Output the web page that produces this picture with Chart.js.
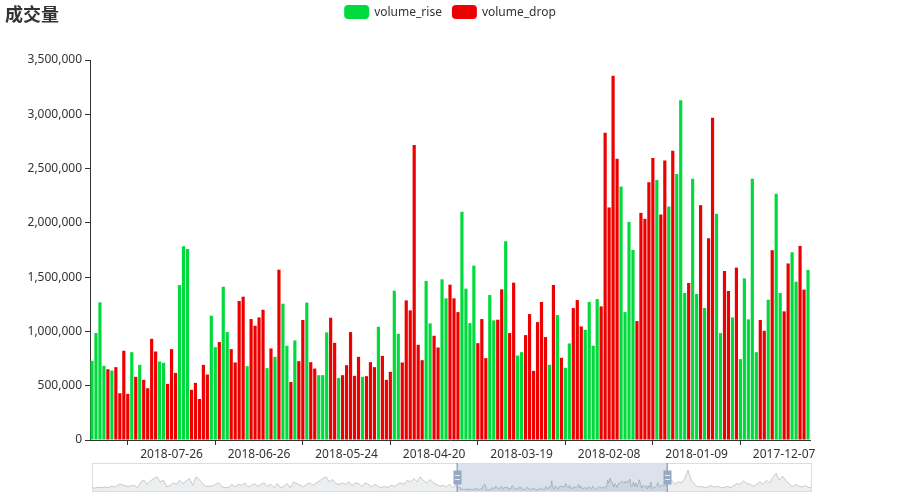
<!DOCTYPE html>
<html>
<head>
<meta charset="utf-8">
<title>成交量</title>
<script src="https://cdn.jsdelivr.net/npm/chart.js@4.4.1/dist/chart.umd.min.js"></script>
<style>
  html, body { margin: 0; padding: 0; background: #fff; }
  #wrap { position: relative; width: 900px; height: 500px; }
  #volumeChart { position: absolute; left: 0; top: 0; }
  #overviewChart { position: absolute; left: 0; top: 460px; }
</style>
</head>
<body>
<div id="wrap">
  <canvas id="volumeChart" width="900" height="460"></canvas>
  <canvas id="overviewChart" width="900" height="40"></canvas>
</div>
<script>
// trading days, newest first (as on the axis)
const dates = [
  "2018-08-23","2018-08-22","2018-08-21","2018-08-20","2018-08-17","2018-08-16","2018-08-15","2018-08-14","2018-08-13","2018-08-10","2018-08-09","2018-08-08","2018-08-07","2018-08-06","2018-08-03","2018-08-02","2018-08-01",
  "2018-07-31","2018-07-30","2018-07-27","2018-07-26","2018-07-25","2018-07-24","2018-07-23","2018-07-20","2018-07-19","2018-07-18","2018-07-17","2018-07-16","2018-07-13","2018-07-12","2018-07-11","2018-07-10","2018-07-09","2018-07-06","2018-07-05","2018-07-04","2018-07-03","2018-07-02",
  "2018-06-29","2018-06-28","2018-06-27","2018-06-26","2018-06-25","2018-06-22","2018-06-21","2018-06-20","2018-06-19","2018-06-15","2018-06-14","2018-06-13","2018-06-12","2018-06-11","2018-06-08","2018-06-07","2018-06-06","2018-06-05","2018-06-04","2018-06-01",
  "2018-05-31","2018-05-30","2018-05-29","2018-05-28","2018-05-25","2018-05-24","2018-05-23","2018-05-22","2018-05-21","2018-05-18","2018-05-17","2018-05-16","2018-05-15","2018-05-14","2018-05-11","2018-05-10","2018-05-09","2018-05-08","2018-05-07","2018-05-04","2018-05-03","2018-05-02",
  "2018-04-27","2018-04-26","2018-04-25","2018-04-24","2018-04-23","2018-04-20","2018-04-19","2018-04-18","2018-04-17","2018-04-16","2018-04-13","2018-04-12","2018-04-11","2018-04-10","2018-04-09","2018-04-04","2018-04-03","2018-04-02",
  "2018-03-30","2018-03-29","2018-03-28","2018-03-27","2018-03-26","2018-03-23","2018-03-22","2018-03-21","2018-03-20","2018-03-19","2018-03-16","2018-03-15","2018-03-14","2018-03-13","2018-03-12","2018-03-09","2018-03-08","2018-03-07","2018-03-06","2018-03-05","2018-03-02","2018-03-01",
  "2018-02-28","2018-02-27","2018-02-26","2018-02-23","2018-02-22","2018-02-14","2018-02-13","2018-02-12","2018-02-09","2018-02-08","2018-02-07","2018-02-06","2018-02-05","2018-02-02","2018-02-01",
  "2018-01-31","2018-01-30","2018-01-29","2018-01-26","2018-01-25","2018-01-24","2018-01-23","2018-01-22","2018-01-19","2018-01-18","2018-01-17","2018-01-16","2018-01-15","2018-01-12","2018-01-11","2018-01-10","2018-01-09","2018-01-08","2018-01-05","2018-01-04","2018-01-03","2018-01-02",
  "2017-12-29","2017-12-28","2017-12-27","2017-12-26","2017-12-25","2017-12-22","2017-12-21","2017-12-20","2017-12-19","2017-12-18","2017-12-15","2017-12-14","2017-12-13","2017-12-12","2017-12-11","2017-12-08","2017-12-07","2017-12-06","2017-12-05","2017-12-04","2017-12-01",
  "2017-11-30","2017-11-29"
];

// daily volume, same order as dates
const volumes = [
  729000, 985000, 1268000, 683000, 652000, 640000, 671000, 431000, 822000, 425000,
  809000, 582000, 692000, 554000, 477000, 932000, 815000, 723000, 711000, 517000,
  837000, 618000, 1428000, 1785000, 1760000, 462000, 526000, 378000, 692000, 603000,
  1145000, 855000, 902000, 1412000, 994000, 837000, 714000, 1280000, 1320000, 680000,
  1114000, 1052000, 1129000, 1200000, 662000, 843000, 766000, 1569000, 1255000, 868000,
  535000, 917000, 726000, 1105000, 1265000, 717000, 658000, 597000, 597000, 991000,
  1126000, 895000, 572000, 597000, 689000, 994000, 591000, 766000, 582000, 588000,
  717000, 671000, 1043000, 775000, 554000, 628000, 1375000, 978000, 714000, 1286000,
  1194000, 2717000, 877000, 735000, 1465000, 1074000, 960000, 852000, 1480000, 1305000,
  1431000, 1305000, 1178000, 2102000, 1394000, 1077000, 1606000, 892000, 1114000, 754000,
  1335000, 1102000, 1108000, 1388000, 1831000, 985000, 1449000, 778000, 809000, 966000,
  1160000, 637000, 1086000, 1271000, 948000, 692000, 1428000, 1151000, 757000, 665000,
  889000, 1215000, 1289000, 1046000, 1015000, 1271000, 868000, 1298000, 1231000, 2831000,
  2142000, 3354000, 2591000, 2335000, 1178000, 2009000, 1751000, 1095000, 2092000, 2037000,
  2375000, 2597000, 2394000, 2077000, 2575000, 2151000, 2665000, 2449000, 3129000, 1354000,
  1446000, 2406000, 1345000, 2163000, 1215000, 1858000, 2969000, 2083000, 985000, 1557000,
  1372000, 1129000, 1588000, 745000, 1489000, 1111000, 2406000, 809000, 1105000, 1006000,
  1292000, 1748000, 2268000, 1354000, 1185000, 1626000, 1729000, 1458000, 1788000, 1385000,
  1566000
];

// '+' = price rose that day, '-' = price dropped
const trend = [
  "++++-+----", "+-+----++-", "--+++-----", "++-++----+", "----+-+-++",
  "-+--+--+++", "--+-----+-", "--+---++--", "----++--++", "---++++---",
  "++--+--++-", "-----+-+-+", "+---++++--", "---++++---", "--+--+-+++",
  "-++-+--++-", "-+-+++++--", "+-++--++--", "+"
].join("");

// x-axis labels that are shown
const shownDates = ["2018-07-26", "2018-06-26", "2018-05-24", "2018-04-20", "2018-03-19", "2018-02-08", "2018-01-09", "2017-12-07"];

// y-axis
const yMax = 3500000;
const yStep = 500000;

// overview strip (data zoom): volumes outside the visible window, rough read-off
const overviewBefore = [
  1060, 975, 1140, 1060, 1220, 1060, 1380, 1220, 1710, 1870,
  1550, 1380, 1470, 1630, 1060, 2450, 2860, 1870, 2700, 3270,
  3680, 2450, 2860, 1220, 1630, 2200, 1870, 2860, 2040, 2700,
  3270, 1630, 3680, 3020, 2040, 1380, 1380, 1470, 1870, 2200,
  1220, 1060, 1060, 1870, 1220, 1870, 1630, 2200, 1220, 1550,
  2040, 1380, 1870, 2200, 1380, 1870, 1060, 2040, 1060,
  1380, 2040, 1060, 2450, 2040, 1630, 1220, 1870, 2200, 1630,
  2200, 2700, 3270, 3680, 2450, 3020, 2040, 1870, 2200, 1870,
  2450, 1630, 2200, 2040, 1380, 2200, 1870, 1220, 1870, 1380,
  1060, 1380, 1060, 1630, 1380, 1870, 2200, 1870, 2860, 2450,
  3270, 2450, 3680, 2700, 2200, 3020, 2200, 1870, 1380, 1630,
  1220, 1870, 1060, 1630
].map(v => v * 1000);
const overviewAfter = [
  2040, 2860, 1870, 2450, 2200, 3270, 5300, 2860, 1870, 1220,
  1380, 1060, 1220, 1550, 1220, 1380, 1060, 1060, 1380, 1060,
  1550, 2040, 1870, 2700, 2040, 1870, 1380, 1870, 2450, 1870,
  2860, 2200, 3510, 4500, 2860, 3840, 2700, 2040, 1220, 1870,
  1380, 1220, 1550, 1060, 1220
].map(v => v * 1000);
const hiddenDaysBefore = 313;
const hiddenDaysAfter = 124;

const volumeRise = volumes.map((v, i) => trend[i] === "+" ? v : null);
const volumeDrop = volumes.map((v, i) => trend[i] === "-" ? v : null);

const labelIdx = new Set(shownDates.map(d => dates.indexOf(d)));
const tickIdx = new Set(shownDates.map(d => dates.indexOf(d) - 11));

const axisFont = { family: "'Noto Sans', sans-serif", size: 12 };

const headerPlugin = {
  id: "header",
  afterDraw(chart) {
    const ctx = chart.ctx;
    ctx.save();
    ctx.textAlign = "left";
    ctx.textBaseline = "middle";
    ctx.fillStyle = "#333";
    ctx.font = "bold 18px 'Noto Sans CJK SC'";
    ctx.fillText("成交量", 5, 14);

    ctx.font = "12px 'Noto Sans'";
    const items = chart.data.datasets.map(ds => ({
      text: ds.label,
      color: ds.backgroundColor,
      w: 25 + 5 + ctx.measureText(ds.label).width
    }));
    const total = items.reduce((s, it) => s + it.w, 0) + 10 * (items.length - 1);
    let x = chart.width / 2 - total / 2;
    items.forEach(it => {
      ctx.fillStyle = it.color;
      ctx.beginPath();
      ctx.roundRect(x, 5, 25, 14, 4);
      ctx.fill();
      ctx.fillStyle = "#333";
      ctx.fillText(it.text, x + 30, 12.5);
      x += it.w + 10;
    });
    ctx.restore();
  }
};

new Chart(document.getElementById("volumeChart"), {
  type: "bar",
  data: {
    labels: dates,
    datasets: [
      { label: "volume_rise", data: volumeRise, backgroundColor: "#00da3c", categoryPercentage: 1, barPercentage: 0.8 },
      { label: "volume_drop", data: volumeDrop, backgroundColor: "#ec0000", categoryPercentage: 1, barPercentage: 0.8 }
    ]
  },
  options: {
    responsive: false,
    animation: false,
    layout: { padding: { left: 0, right: 90, top: 60, bottom: 0 } },
    plugins: { legend: { display: false }, tooltip: { enabled: false } },
    scales: {
      x: {
        stacked: true,
        offset: true,
        grid: {
          offset: false,
          drawOnChartArea: false,
          tickLength: 5,
          color: "rgba(0,0,0,0)",
          tickColor: c => tickIdx.has(c.index) ? "#333" : "rgba(0,0,0,0)"
        },
        border: { color: "#333" },
        ticks: {
          autoSkip: false,
          maxRotation: 0,
          minRotation: 0,
          padding: 2,
          color: "#333",
          font: axisFont,
          callback(value, index) {
            return labelIdx.has(index) ? this.getLabelForValue(value) : "";
          }
        },
        afterFit(scale) { scale.height = 20; }
      },
      y: {
        stacked: true,
        min: 0,
        max: yMax,
        grid: { drawOnChartArea: false, tickLength: 5, tickColor: "#333" },
        border: { color: "#333" },
        ticks: {
          stepSize: yStep,
          padding: 3,
          color: "#333",
          font: axisFont,
          callback: v => v.toLocaleString("en-US")
        },
        afterFit(scale) { scale.width = 90; }
      }
    }
  },
  plugins: [headerPlugin]
});

// overview strip under the chart
const overviewPoints = [];
overviewBefore.forEach((v, i) => {
  overviewPoints.push({ x: i * (hiddenDaysBefore - 1) / (overviewBefore.length - 1), y: v });
});
volumes.forEach((v, i) => {
  overviewPoints.push({ x: hiddenDaysBefore + i, y: v });
});
overviewAfter.forEach((v, i) => {
  overviewPoints.push({ x: hiddenDaysBefore + volumes.length + i * (hiddenDaysAfter - 1) / (overviewAfter.length - 1), y: v });
});
const overviewLast = hiddenDaysBefore + volumes.length + hiddenDaysAfter - 1;

const sliderPlugin = {
  id: "slider",
  beforeDatasetsDraw(chart) {
    const { ctx, chartArea: a, scales: { x } } = chart;
    const x0 = x.getPixelForValue(hiddenDaysBefore);
    const x1 = x.getPixelForValue(hiddenDaysBefore + volumes.length - 1);
    ctx.save();
    ctx.fillStyle = "rgba(167,183,204,0.4)";
    ctx.fillRect(x0, a.top, x1 - x0, a.bottom - a.top);
    ctx.restore();
  },
  afterDraw(chart) {
    const { ctx, chartArea: a, scales: { x } } = chart;
    ctx.save();
    ctx.strokeStyle = "#ddd";
    ctx.lineWidth = 1;
    ctx.strokeRect(a.left + 0.5, a.top + 0.5, a.right - a.left - 1, a.bottom - a.top - 1);
    const mid = (a.top + a.bottom) / 2;
    [hiddenDaysBefore, hiddenDaysBefore + volumes.length - 1].forEach(d => {
      const hx = Math.round(x.getPixelForValue(d));
      ctx.fillStyle = "#97a8c2";
      ctx.fillRect(hx - 0.5, a.top, 1.5, a.bottom - a.top);
      ctx.fillRect(hx - 3.5, mid - 7, 8, 14);
      ctx.fillStyle = "rgba(255,255,255,0.8)";
      ctx.fillRect(hx - 2, mid - 2.5, 5, 1);
      ctx.fillRect(hx - 2, mid + 1.5, 5, 1);
    });
    ctx.restore();
  }
};

new Chart(document.getElementById("overviewChart"), {
  type: "line",
  data: {
    datasets: [{
      data: overviewPoints,
      borderColor: "rgba(47,69,84,0.3)",
      borderWidth: 0.8,
      backgroundColor: "rgba(47,69,84,0.09)",
      fill: "origin",
      pointRadius: 0,
      tension: 0
    }]
  },
  options: {
    responsive: false,
    animation: false,
    layout: { padding: { left: 92, right: 88, top: 3, bottom: 8 } },
    plugins: { legend: { display: false }, tooltip: { enabled: false } },
    scales: {
      x: { type: "linear", display: false, min: 0, max: overviewLast },
      y: { display: false, min: 0, max: 7000000 }
    }
  },
  plugins: [sliderPlugin]
});
</script>
</body>
</html>
